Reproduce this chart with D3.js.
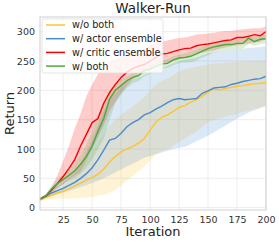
<!DOCTYPE html>
<html>
<head>
<meta charset="utf-8">
<script src="https://cdn.jsdelivr.net/npm/d3@7"></script>
<style>
body { margin: 0; background: #fff; }
svg { font-family: "DejaVu Sans", sans-serif; }
</style>
</head>
<body>
<svg id="svg0" width="279" height="242"></svg>
<script>
// iterations, every 5
var iters = d3.range(5, 201, 5);

var woBoth   = [13,17,21,25,28,32,37,42,47,51,57,66,78,87,95,100,104,110,118,132,146,154,158,164,171,174,180,184,190,197,202,201,203,205,207,208,210,211,212,213];
var woBothLo = [11,13,14,15,15,15,16,16,17,18,20,22,25,30,38,46,54,62,70,80,90,96,100,106,112,118,124,130,138,145,150,152,155,158,160,163,165,168,170,173];
var woBothHi = [15,20,26,32,37,45,55,65,80,95,110,125,140,150,158,165,172,180,188,200,210,216,220,226,232,236,238,240,242,244,246,246,247,248,248,249,250,250,250,251];

var actor   = [14,19,25,29,33,38,43,50,58,68,82,98,115,118,127,138,145,150,158,162,168,173,179,184,186,184,185,186,195,199,204,205,206,210,212,215,217,219,220,224];
var actorLo = [12,16,20,23,26,29,32,35,38,42,46,50,55,60,65,70,75,80,85,88,91,94,97,100,102,104,108,113,118,123,128,134,140,146,152,157,162,166,170,174];
var actorHi = [16,22,30,36,42,50,60,75,95,115,140,165,185,195,205,212,218,222,226,230,234,238,242,246,250,252,254,256,260,263,265,266,268,269,270,271,272,273,274,275];

var critic   = [15,20,30,41,53,67,82,105,125,145,152,178,196,210,222,231,237,241,244,250,256,262,263,266,269,271,272,276,278,279,281,283,285,286,290,290,292,295,293,300];
var criticLo = [14,18,26,33,40,48,55,62,80,100,120,140,165,180,195,208,218,225,230,235,240,244,246,250,253,256,258,262,264,266,268,271,273,275,277,278,280,282,283,287];
var criticHi = [17,23,36,55,80,105,135,160,190,210,228,240,248,254,258,261,265,268,272,276,280,283,285,287,289,290,292,295,296,297,298,300,301,301,303,304,305,306,306,309];

var both   = [15,20,32,41,48,55,63,74,87,105,130,152,185,200,208,216,222,225,234,236,241,245,246,252,255,256,258,262,267,271,274,276,278,278,280,280,289,283,287,288];
var bothLo = [13,18,27,34,40,45,51,58,68,82,100,118,150,178,193,204,212,216,224,228,233,237,238,243,246,247,248,251,256,260,264,266,268,269,270,271,279,276,279,280];
var bothHi = [17,23,36,48,57,66,76,90,108,130,158,180,200,211,218,224,229,233,240,243,248,251,253,258,261,263,266,270,274,277,280,282,284,285,287,288,296,292,294,295];

var xTicks = [25,50,75,100,125,150,175,200];
var yTicks = [0,50,100,150,200,250,300];

var series = [
    {name: 'w/o both', color: '#fdc430', v: woBoth, lo: woBothLo, hi: woBothHi},
    {name: 'w/ actor ensemble', color: '#4b8bcb', v: actor, lo: actorLo, hi: actorHi},
    {name: 'w/ critic ensemble', color: '#ff0000', v: critic, lo: criticLo, hi: criticHi},
    {name: 'w/ both', color: '#4ea83a', v: both, lo: bothLo, hi: bothHi}
];

var marginLeft = 40;
var marginTop = 17;
var plotW = 226;
var plotH = 193;

var svg = d3.select('#svg0');

var x = d3.scaleLinear().domain([5, 200]).range([marginLeft, marginLeft + plotW]);
var y = d3.scaleLinear().domain([-4, 325]).range([marginTop + plotH, marginTop]);

// grid
svg.append('g')
    .selectAll('line')
    .data(xTicks)
    .enter()
    .append('line')
    .attr('x1', function(d){ return x(d); })
    .attr('x2', function(d){ return x(d); })
    .attr('y1', marginTop)
    .attr('y2', marginTop + plotH)
    .attr('stroke', '#e8e8e8')
    .attr('stroke-width', 0.8);

svg.append('g')
    .selectAll('line')
    .data(yTicks)
    .enter()
    .append('line')
    .attr('x1', marginLeft)
    .attr('x2', marginLeft + plotW)
    .attr('y1', function(d){ return y(d); })
    .attr('y2', function(d){ return y(d); })
    .attr('stroke', '#e8e8e8')
    .attr('stroke-width', 0.8);

// bands first, lines on top
var area = d3.area()
    .x(function(d){ return x(d.it); })
    .y0(function(d){ return y(d.lo); })
    .y1(function(d){ return y(d.hi); });

var line = d3.line()
    .x(function(d){ return x(d.it); })
    .y(function(d){ return y(d.v); });

series.forEach(function(s){
    s.pts = iters.map(function(it, i){
        return {it: it, v: s.v[i], lo: s.lo[i], hi: s.hi[i]};
    });
});

svg.append('g')
    .selectAll('path')
    .data(series)
    .enter()
    .append('path')
    .attr('d', function(s){ return area(s.pts); })
    .attr('fill', function(s){ return s.color; })
    .attr('fill-opacity', 0.2);

svg.append('g')
    .selectAll('path')
    .data(series)
    .enter()
    .append('path')
    .attr('d', function(s){ return line(s.pts); })
    .attr('fill', 'none')
    .attr('stroke', function(s){ return s.color; })
    .attr('stroke-width', 1.4);

// frame
svg.append('rect')
    .attr('x', marginLeft)
    .attr('y', marginTop)
    .attr('width', plotW)
    .attr('height', plotH)
    .attr('fill', 'none')
    .attr('stroke', '#d0d0d0')
    .attr('stroke-width', 1);

// axes, no tick marks
var xAxis = svg.append('g')
    .attr('transform', 'translate(0,' + (marginTop + plotH) + ')')
    .call(d3.axisBottom(x).tickValues(xTicks).tickSize(0).tickPadding(6));
var yAxis = svg.append('g')
    .attr('transform', 'translate(' + marginLeft + ',0)')
    .call(d3.axisLeft(y).tickValues(yTicks).tickSize(0).tickPadding(5));

[xAxis, yAxis].forEach(function(a){
    a.select('.domain').remove();
    a.selectAll('text')
        .attr('font-family', 'DejaVu Sans')
        .attr('font-size', 9.5)
        .attr('fill', '#333');
});

// title and labels
svg.append('text')
    .attr('x', marginLeft + plotW / 2)
    .attr('y', 13)
    .attr('text-anchor', 'middle')
    .attr('font-size', 13.5)
    .attr('fill', '#222')
    .text('Walker-Run');

svg.append('text')
    .attr('x', marginLeft + plotW / 2)
    .attr('y', 236)
    .attr('text-anchor', 'middle')
    .attr('font-size', 13)
    .attr('fill', '#222')
    .text('Iteration');

svg.append('text')
    .attr('transform', 'translate(14,' + (marginTop + plotH / 2) + ') rotate(-90)')
    .attr('text-anchor', 'middle')
    .attr('font-size', 13)
    .attr('fill', '#222')
    .text('Return');

// legend
var legend = svg.append('g');
legend.append('rect')
    .attr('x', 42)
    .attr('y', 19)
    .attr('width', 121)
    .attr('height', 54)
    .attr('rx', 2)
    .attr('fill', '#fff')
    .attr('fill-opacity', 0.8)
    .attr('stroke', '#dddddd')
    .attr('stroke-width', 0.8);

var items = legend.selectAll('g.item')
    .data(series)
    .enter()
    .append('g')
    .attr('class', 'item')
    .attr('transform', function(d, i){ return 'translate(0,' + (25 + i * 13.7) + ')'; });

items.append('line')
    .attr('x1', 46)
    .attr('x2', 65)
    .attr('y1', 0)
    .attr('y2', 0)
    .attr('stroke', function(d){ return d.color; })
    .attr('stroke-width', 1.5);

items.append('text')
    .attr('x', 72)
    .attr('y', 0)
    .attr('dy', '0.35em')
    .attr('font-size', 9.7)
    .attr('fill', '#222')
    .text(function(d){ return d.name; });
</script>
</body>
</html>
